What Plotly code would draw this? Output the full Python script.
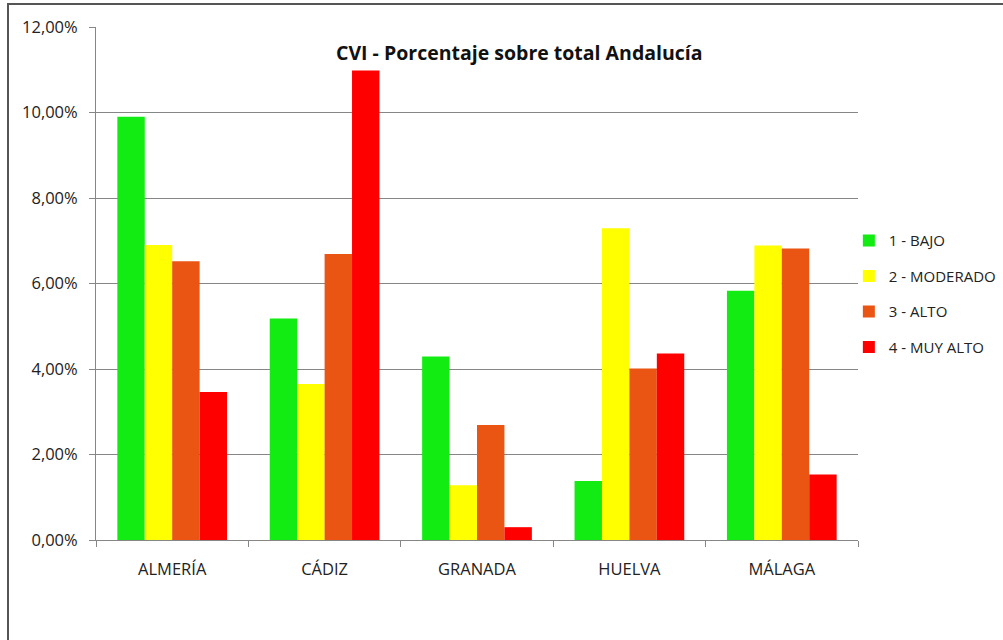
import plotly.graph_objects as go

# Provinces and CVI level shares (fraction of the Andalucía total)
provincias = ["ALMERÍA", "CÁDIZ", "GRANADA", "HUELVA", "MÁLAGA"]
niveles = ["1 - BAJO", "2 - MODERADO", "3 - ALTO", "4 - MUY ALTO"]
bajo = [0.0990, 0.0518, 0.0429, 0.0138, 0.0583]
moderado = [0.0690, 0.0365, 0.0128, 0.0729, 0.0689]
alto = [0.0652, 0.0669, 0.0269, 0.0401, 0.0682]
muy_alto = [0.0346, 0.1098, 0.0030, 0.0436, 0.0153]
colores = ["#12EC12", "#FFFF00", "#EA5514", "#FF0000"]

series = [bajo, moderado, alto, muy_alto]

FONT = "Open Sans"
GRID = "#868686"

fig = go.Figure()
for nombre, valores, color in zip(niveles, series, colores):
    fig.add_trace(go.Bar(
        x=provincias, y=valores, name=nombre, legendgroup=nombre,
        marker=dict(color=color, line=dict(width=0)),
    ))

fig.update_layout(
    width=1003, height=640,
    margin=dict(l=96, r=145, t=27, b=100, autoexpand=False),
    paper_bgcolor="white", plot_bgcolor="white",
    separators=",.",
    barmode="group", bargap=0.28, bargroupgap=0,
    font=dict(family=FONT, size=16, color="#222222"),
    showlegend=True,
    legend=dict(
        x=0.988, xanchor="left", y=0.48, yanchor="middle",
        font=dict(family=FONT, size=15, color="#222222"),
        tracegroupgap=13, itemwidth=30, bgcolor="rgba(0,0,0,0)",
    ),
    xaxis=dict(
        showline=True, linecolor=GRID, linewidth=1,
        ticks="outside", tickson="boundaries", ticklen=6, tickcolor=GRID,
        showgrid=False, tickfont=dict(size=16.5), ticklabelstandoff=14,
    ),
    yaxis=dict(
        range=[0, 0.12], dtick=0.02, tickformat=".2%",
        showline=True, linecolor=GRID, linewidth=1,
        ticks="outside", ticklen=6, tickcolor=GRID,
        showgrid=True, gridcolor=GRID, gridwidth=1,
        zeroline=False, tickfont=dict(size=16.5), ticklabelstandoff=8,
    ),
    annotations=[dict(
        text="<b>CVI - Porcentaje sobre total Andalucía</b>",
        xref="paper", yref="paper", x=0.556, y=0.95,
        xanchor="center", yanchor="middle", showarrow=False,
        font=dict(family=FONT, size=19.5, color="#111111"),
    )],
    shapes=[dict(
        type="rect", xref="paper", yref="paper",
        x0=(8 - 96) / 762, x1=(1010 - 96) / 762,
        y0=-(650 - 540) / 513, y1=(540 - 4) / 513,
        line=dict(color="#555555", width=2), fillcolor="rgba(0,0,0,0)",
        layer="below",
    )],
)

fig.write_html("out.html")
